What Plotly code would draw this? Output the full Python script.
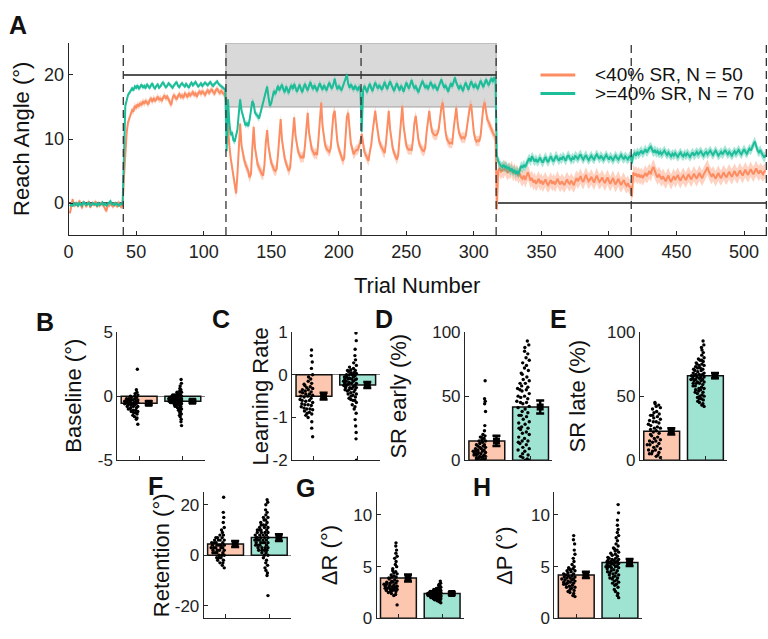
import numpy as np
import plotly.graph_objects as go

W, H = 768, 639
FONT = "Liberation Sans, Arial, sans-serif"
ORANGE = "#FC8D62"
TEAL = "#1DBD9A"
ORANGE_BAR = "#FDC6AE"
TEAL_BAR = "#9FE3D3"
AXC = "#262626"

# ---------------- panel A data (trial-by-trial group means) ----------------
phase_start = [1, 41, 117, 317]
block_edges = [40.5, 116.5, 216.5, 316.5, 416.5, 516.5]
target_x = [0, 40.5, None, 40.5, 316.5, None, 316.5, 516.5]
target_y = [0, 0, None, 20, 20, None, 0, 0]
window_x = [116.5, 316.5]
window_y = [15, 25]

orange_base = [-1.6, -0.4, 0.6, -0.5, -0.2, 0.1, -0.6, 0.4, -0.3, -0.8,
               0.2, -0.1, -0.5, -0.3, 0.3, -0.7, -0.2, 0.0, -0.4, 0.3,
               -0.6, -0.2, -0.5, 0.1, -0.3, -0.4, -0.9, -1.3, -0.2, -0.5,
               0.0, -0.4, -0.6, -0.1, -0.3, -0.5, 0.2, -0.4, -0.6, -0.3]
teal_base = [-0.5, -0.2, -0.4, 0.1, -0.3, -0.1, -0.5, 0.0, -0.2, -0.4,
             0.2, -0.1, -0.3, -0.2, 0.1, -0.4, -0.3, 0.0, -0.2, -0.1,
             -0.4, 0.0, -0.3, -0.2, 0.1, -0.3, -0.1, -0.4, -0.2, 0.0,
             0.3, -0.2, -0.1, -0.3, 0.0, -0.2, -0.4, -0.1, -0.2, -0.1]

orange_train = [4.0, 8.6, 11.0, 12.6, 13.3, 14.1, 14.5, 14.3, 15.2, 14.8,
                15.4, 15.1, 15.6, 15.3, 15.9, 15.5, 16.0, 15.7, 15.4, 16.1,
                16.3, 15.8, 16.4, 16.0, 16.2, 16.6, 16.1, 16.4, 15.9, 16.5,
                16.8, 16.3, 16.6, 16.2, 15.6, 15.3, 16.4, 16.9, 16.5, 16.2,
                16.7, 17.0, 16.6, 16.8, 16.4, 17.1, 16.9, 16.5, 17.2, 16.8,
                17.0, 17.3, 16.9, 17.1, 16.6, 17.2, 17.4, 17.0, 17.5, 17.2,
                16.9, 17.3, 17.6, 17.2, 17.5, 17.8, 17.3, 17.1, 17.6, 17.9,
                17.4, 17.2, 17.5, 17.3, 17.0, 17.1]
teal_train = [9.5, 15.2, 16.0, 16.9, 17.2, 17.5, 17.9, 17.6, 18.2, 18.0,
              18.4, 17.8, 18.1, 18.5, 18.0, 18.3, 17.9, 18.6, 18.2, 18.0,
              18.4, 18.7, 18.1, 17.9, 18.3, 18.5, 18.0, 18.2, 18.6, 18.9,
              18.4, 18.1, 18.3, 18.7, 18.5, 18.2, 18.0, 18.4, 18.6, 18.9,
              18.3, 18.1, 18.5, 18.7, 18.4, 18.2, 18.6, 18.3, 18.0, 18.5,
              18.8, 18.4, 18.6, 18.9, 18.5, 18.2, 18.4, 18.7, 18.3, 18.5,
              18.8, 18.6, 18.4, 18.7, 18.9, 18.5, 18.3, 18.6, 18.8, 19.0,
              18.6, 18.4, 18.2, 18.0, 17.9, 17.7]

orange_pert = [14.0, 11.0, 9.0, 7.0, 5.5, 4.0, 2.8, 1.5, 4.5, 9.0,
               12.4, 9.0, 7.5, 6.8, 6.0, 5.5, 5.0, 4.0, 4.5, 8.5,
               11.9, 8.6, 6.8, 6.0, 5.5, 5.0, 4.5, 4.3, 6.0, 9.5,
               11.4, 8.8, 7.2, 6.3, 5.8, 5.2, 5.0, 5.3, 7.5, 11.0,
               13.1, 9.8, 8.0, 7.0, 6.2, 5.6, 5.0, 5.5, 8.0, 11.5,
               13.4, 10.5, 8.8, 8.0, 7.5, 7.0, 7.3, 7.0, 9.0, 12.0,
               14.1, 11.0, 9.2, 8.4, 8.0, 7.6, 7.8, 7.5, 10.0, 13.5,
               15.7, 12.0, 10.0, 9.0, 8.5, 8.3, 8.0, 8.5, 11.0, 13.8,
               14.4, 11.2, 9.5, 8.5, 7.8, 7.2, 6.6, 7.0, 10.5, 13.5,
               14.1, 11.0, 9.2, 8.5, 7.6, 8.0, 8.3, 8.3, 9.0, 9.5,
               10.8, 9.0, 8.0, 7.5, 7.0, 6.6, 8.0, 9.0, 11.0, 13.0,
               14.4, 12.5, 10.5, 9.6, 9.0, 8.5, 8.0, 7.8, 9.5, 12.5,
               14.4, 11.5, 9.6, 8.5, 7.8, 7.3, 6.8, 7.5, 10.5, 13.5,
               15.2, 12.0, 10.0, 9.0, 8.5, 8.3, 8.4, 8.3, 10.0, 12.5,
               13.6, 11.5, 9.8, 9.0, 8.5, 8.2, 8.1, 8.6, 11.0, 13.3,
               14.4, 12.5, 11.2, 10.8, 10.6, 10.6, 10.8, 11.5, 13.5, 15.0,
               15.7, 13.0, 11.2, 10.0, 9.6, 9.3, 9.4, 9.3, 11.5, 13.8,
               14.9, 12.5, 11.0, 10.5, 10.1, 10.3, 10.1, 10.5, 12.0, 14.0,
               15.0, 15.4, 13.0, 11.0, 10.0, 9.6, 9.8, 9.6, 10.5, 13.0,
               15.0, 15.7, 14.5, 13.0, 12.6, 12.0, 11.5, 11.0, 10.6, 10.4]
teal_pert = [8.1, 16.2, 12.6, 10.6, 11.1, 9.8, 9.6, 10.6, 11.5, 14.0,
             16.2, 14.5, 13.6, 12.8, 12.1, 12.5, 12.0, 13.0, 14.5, 15.9,
             15.5, 14.1, 13.8, 13.6, 13.2, 14.0, 15.0, 15.7, 16.5, 17.5,
             18.2, 16.5, 15.2, 15.6, 16.5, 17.5, 17.0, 17.8, 18.3, 17.6,
             18.0, 18.5, 17.7, 17.3, 18.2, 17.5, 17.2, 18.0, 18.4, 17.8,
             18.6, 18.0, 17.4, 17.9, 18.5, 17.8, 17.3, 18.1, 18.6, 18.0,
             17.6, 18.3, 18.9, 18.2, 17.8, 18.4, 17.9, 17.5, 18.2, 18.7,
             18.1, 17.7, 18.4, 18.0, 17.6, 18.3, 18.8, 18.2, 17.9, 18.5,
             19.4, 18.4, 17.8, 18.3, 18.0, 17.6, 18.2, 18.8, 19.6, 20.0,
             18.6, 18.0, 18.5, 18.1, 17.7, 18.3, 18.0, 17.6, 18.2, 17.9,
             11.1, 17.6, 18.3, 17.8, 17.3, 18.1, 18.6, 18.0, 17.5, 18.2,
             18.8, 18.3, 17.9, 18.4, 18.1, 17.7, 18.3, 18.9, 18.2, 17.8,
             18.5, 19.0, 18.4, 18.0, 17.5, 18.2, 18.7, 18.1, 17.6, 18.3,
             18.0, 17.4, 18.1, 18.8, 18.3, 17.9, 18.6, 19.2, 18.4, 17.9,
             18.2, 17.7, 17.3, 18.0, 18.6, 19.1, 18.5, 18.0, 18.4, 17.8,
             18.3, 18.9, 18.4, 17.9, 18.5, 18.1, 17.6, 18.2, 18.8, 19.3,
             18.6, 18.0, 18.4, 17.9, 17.4, 18.1, 18.7, 18.2, 18.9, 19.6,
             18.8, 18.2, 17.8, 18.4, 18.0, 17.5, 18.3, 18.8, 18.2, 17.7,
             18.4, 19.0, 18.5, 18.0, 18.6, 18.2, 17.8, 18.5, 19.1, 18.6,
             18.1, 18.7, 19.3, 18.8, 18.4, 19.0, 19.5, 18.9, 19.6, 19.2]

orange_post = [-1.0, 5.0, 5.5, 4.8, 5.3, 5.0, 5.6, 5.1, 4.7, 5.2,
               4.9, 5.4, 4.6, 5.0, 4.5, 4.8, 4.2, 4.6, 4.0, 3.8,
               4.3, 3.6, 4.1, 4.8, 4.2, 3.5, 3.9, 3.2, 3.6, 3.0,
               3.4, 3.8, 3.1, 3.5, 2.9, 3.3, 3.7, 3.1, 2.8, 3.2,
               3.6, 3.0, 3.4, 2.9, 3.3, 3.8, 3.2, 2.9, 3.4, 3.1,
               2.8, 3.3, 3.7, 3.2, 3.0, 3.5, 3.1, 2.8, 3.4, 3.9,
               3.4, 3.8, 4.2, 3.6, 3.3, 3.9, 4.4, 3.8, 3.4, 3.7,
               4.1, 3.6, 3.2, 3.8, 4.3, 3.7, 3.3, 3.6, 4.0, 3.5,
               3.1, 3.6, 4.0, 3.4, 3.0, 3.5, 3.9, 3.3, 2.9, 3.4,
               3.8, 3.2, 2.8, 3.3, 3.6, 3.0, 2.7, 3.1, 2.6, 2.5,
               1.0, 4.8, 4.3, 4.6, 4.1, 4.5, 4.0, 4.4, 3.9, 4.3,
               4.7, 4.2, 4.6, 5.0, 4.5, 5.3, 5.6, 4.9, 4.4, 4.0,
               4.5, 4.1, 3.7, 4.2, 3.8, 3.4, 3.9, 4.3, 3.7, 3.3,
               3.8, 4.2, 3.6, 3.9, 4.4, 3.8, 3.5, 4.0, 4.3, 3.9,
               3.6, 4.1, 4.5, 4.0, 3.7, 4.2, 4.6, 4.1, 3.8, 4.3,
               4.7, 4.2, 3.9, 4.4, 4.8, 5.2, 5.6, 4.9, 4.5, 4.1,
               4.6, 4.2, 3.8, 4.3, 4.7, 4.2, 3.9, 4.4, 4.8, 4.3,
               4.0, 4.5, 4.9, 4.4, 4.1, 4.6, 5.0, 4.5, 4.2, 4.7,
               5.1, 4.6, 4.3, 4.8, 5.2, 4.7, 4.4, 4.9, 5.3, 4.8,
               4.5, 5.0, 5.4, 4.9, 4.6, 5.1, 4.8, 4.5, 4.9, 5.1]
teal_post = [7.5, 6.5, 6.0, 5.8, 5.6, 6.0, 5.5, 5.8, 5.3, 5.6,
             5.0, 5.4, 4.8, 5.2, 4.6, 5.0, 4.5, 5.3, 5.8, 5.5,
             6.0, 5.6, 6.2, 6.6, 7.0, 6.5, 7.3, 6.8, 6.5, 6.9,
             6.4, 6.7, 7.1, 6.6, 6.3, 6.8, 7.2, 6.7, 6.4, 6.9,
             7.3, 6.8, 6.5, 7.0, 7.4, 6.9, 6.6, 7.1, 6.8, 7.3,
             7.0, 6.6, 7.2, 7.5, 7.0, 6.7, 7.1, 6.8, 7.4, 7.2,
             6.9, 7.3, 7.6, 7.1, 6.8, 7.2, 7.5, 7.0, 6.7, 7.1,
             7.4, 7.0, 6.8, 7.3, 7.6, 7.2, 6.9, 7.4, 7.1, 6.8,
             7.2, 7.5, 7.1, 6.8, 7.3, 7.0, 6.7, 7.1, 7.4, 7.0,
             6.8, 7.2, 7.5, 7.1, 6.9, 7.3, 7.0, 6.8, 7.2, 7.4,
             6.2, 7.5, 7.8, 7.4, 8.0, 7.6, 7.9, 8.2, 7.7, 8.0,
             8.4, 7.9, 8.3, 8.6, 8.8, 8.2, 7.9, 8.3, 7.8, 8.1,
             7.7, 8.0, 7.6, 7.9, 8.2, 7.8, 7.5, 7.9, 7.6, 7.3,
             7.7, 7.4, 7.8, 7.5, 7.2, 7.6, 7.9, 7.5, 7.3, 7.7,
             7.4, 7.8, 7.5, 7.2, 7.6, 7.9, 7.4, 7.7, 8.0, 7.6,
             7.8, 8.1, 7.7, 7.4, 7.8, 8.0, 7.6, 7.9, 8.2, 7.8,
             7.5, 7.9, 8.2, 7.8, 7.4, 7.7, 8.0, 7.6, 7.9, 8.3,
             7.9, 7.6, 8.0, 7.7, 7.4, 7.8, 8.1, 7.7, 8.0, 8.3,
             7.9, 7.6, 8.0, 8.4, 8.0, 7.7, 8.1, 8.5, 8.2, 8.8,
             9.2, 9.6, 8.8, 8.2, 7.9, 8.3, 7.8, 7.4, 7.1, 7.5]

# standard error per phase (baseline, training, perturbation, post)
se_orange = [0.35, 0.5, 0.8, 1.2]
se_teal = [0.25, 0.35, 0.5, 0.75]

# ---------------- panels B-H data ----------------
base_o = [2.1, 0.5, 0.3, 0.2, 0.1, 0.0, 0.0, -0.1, -0.1, -0.2, -0.2, -0.2, -0.3, -0.3, -0.3,
          -0.3, -0.4, -0.4, -0.4, -0.5, -0.5, -0.5, -0.5, -0.6, -0.6, -0.6, -0.7, -0.7, -0.7,
          -0.8, -0.8, -0.8, -0.9, -0.9, -1.0, -1.0, -1.1, -1.1, -1.2, -1.2, -1.3, -1.3, -1.4,
          -1.5, -1.6, -1.7, -1.8, -0.4, -0.6, -2.2]
base_t = [1.3, 1.0, 0.8, 0.6, 0.5, 0.4, 0.3, 0.3, 0.2, 0.2, 0.1, 0.1, 0.1, 0.0, 0.0, 0.0, 0.0,
          -0.1, -0.1, -0.1, -0.1, -0.1, -0.2, -0.2, -0.2, -0.2, -0.2, -0.3, -0.3, -0.3, -0.3,
          -0.3, -0.4, -0.4, -0.4, -0.4, -0.5, -0.5, -0.5, -0.5, -0.6, -0.6, -0.6, -0.7, -0.7,
          -0.7, -0.8, -0.8, -0.9, -0.9, -1.0, -1.0, -1.1, -1.2, -1.3, -1.4, -1.5, -1.6, -1.8,
          -2.0, -2.3, -0.2, -0.3, -0.1, 0.0, -0.4, -0.6, -0.2, -0.5, -0.3]
rate_o = [0.58, 0.45, 0.3, 0.15, 0.0, -0.05, -0.1, -0.15, -0.2, -0.22, -0.25, -0.28, -0.3,
          -0.32, -0.35, -0.38, -0.4, -0.42, -0.45, -0.48, -0.5, -0.52, -0.55, -0.58, -0.6,
          -0.62, -0.65, -0.68, -0.7, -0.72, -0.75, -0.78, -0.8, -0.82, -0.85, -0.88, -0.9,
          -0.92, -0.95, -0.6, -0.5, -0.45, -0.35, -0.7, -0.8, -1.0, -1.1, -1.25, -1.45, -0.4]
rate_t = [0.98, 0.8, 0.6, 0.45, 0.35, 0.28, 0.22, 0.18, 0.15, 0.12, 0.1, 0.08, 0.05, 0.03,
          0.0, 0.0, -0.02, -0.05, -0.05, -0.08, -0.1, -0.1, -0.12, -0.15, -0.15, -0.18, -0.2,
          -0.2, -0.22, -0.25, -0.25, -0.28, -0.3, -0.3, -0.32, -0.35, -0.35, -0.38, -0.4,
          -0.42, -0.45, -0.48, -0.5, -0.52, -0.55, -0.58, -0.6, -0.65, -0.7, -0.75, -0.8,
          -0.9, -1.05, -1.2, -1.35, -1.5, -2.0, -0.1, -0.2, -0.3, 0.05, -0.15, -0.25, -0.05,
          0.1, -0.35, -0.45, -0.6, 0.0, -0.1]
sr_early_o = [62, 48, 46, 44, 38, 27, 23, 20, 19, 18, 17, 16, 15, 14, 13, 12, 12, 11, 10, 10,
              9, 9, 8, 8, 7, 7, 6, 6, 5, 5, 5, 4, 4, 3, 3, 3, 2, 2, 2, 1, 1, 1, 0, 0, 0,
              15, 11, 7, 4, 18]
sr_early_t = [93, 90, 88, 85, 83, 80, 78, 76, 74, 72, 70, 68, 67, 65, 63, 62, 60, 58, 57, 56,
              55, 54, 52, 50, 49, 48, 46, 45, 44, 42, 41, 40, 38, 37, 35, 34, 32, 30, 29, 28,
              26, 25, 24, 22, 21, 20, 18, 17, 15, 14, 13, 12, 10, 9, 8, 7, 5, 4, 3, 2, 1, 0,
              0, 55, 45, 35, 25, 15, 60, 50]
sr_late_o = [45, 44, 43, 42, 41, 40, 38, 37, 36, 35, 34, 33, 32, 31, 30, 29, 28, 27, 26, 25,
             24, 23, 22, 21, 20, 19, 18, 17, 16, 15, 14, 13, 12, 11, 10, 9, 8, 7, 6, 5, 4, 3,
             2, 30, 35, 12, 8, 5, 25, 15]
sr_late_t = [93, 90, 88, 86, 84, 82, 80, 79, 78, 77, 76, 75, 74, 73, 72, 71, 70, 69, 68, 68,
             67, 67, 66, 66, 65, 65, 64, 64, 63, 63, 62, 62, 61, 61, 60, 60, 59, 58, 57, 56,
             55, 55, 54, 53, 52, 51, 50, 50, 49, 48, 47, 46, 45, 44, 43, 42, 70, 72, 75, 78,
             65, 58, 53, 48, 63, 67, 71, 56, 60, 74]
ret_o = [23, 17, 15, 13, 11, 10, 9, 8, 8, 7, 7, 6, 6, 6, 5, 5, 5, 4, 4, 4, 4, 3, 3, 3, 3, 2,
         2, 2, 1, 1, 1, 0, 0, 0, -1, -1, -2, -2, -3, -3, -4, -5, 5, 3, 7, 2, 4, 6, 1, -1]
ret_t = [22, 21, 20, 18, 17, 16, 15, 14, 13, 12, 12, 11, 11, 10, 10, 10, 9, 9, 9, 8, 8, 8, 7,
         7, 7, 7, 6, 6, 6, 6, 5, 5, 5, 5, 4, 4, 4, 3, 3, 3, 2, 2, 2, 1, 1, 0, 0, -1, -2, -3,
         -4, -5, -6, -7, -8, -16, 9, 6, 4, 11, 13, 8, 5, 3, 10, 7, 12, 14, 2, 15]
dr_o = [7.3, 7.0, 6.6, 6.3, 6.0, 5.8, 5.5, 5.2, 5.0, 4.8, 4.6, 4.5, 4.4, 4.3, 4.2, 4.1, 4.0,
        3.9, 3.8, 3.7, 3.6, 3.5, 3.5, 3.4, 3.3, 3.3, 3.2, 3.2, 3.1, 3.1, 3.0, 3.0, 2.9, 2.9,
        2.8, 2.8, 2.7, 2.7, 2.6, 2.5, 2.4, 2.3, 2.2, 1.3, 3.6, 4.0, 3.4, 2.6, 3.0, 2.8]
dr_t = [3.6, 3.4, 3.3, 3.2, 3.1, 3.0, 3.0, 2.9, 2.9, 2.8, 2.8, 2.8, 2.7, 2.7, 2.7, 2.6, 2.6,
        2.6, 2.6, 2.5, 2.5, 2.5, 2.5, 2.4, 2.4, 2.4, 2.4, 2.3, 2.3, 2.3, 2.3, 2.2, 2.2, 2.2,
        2.2, 2.1, 2.1, 2.1, 2.1, 2.0, 2.0, 2.0, 2.0, 1.9, 1.9, 1.9, 1.8, 1.8, 1.8, 1.7, 1.7,
        1.6, 1.5, 2.4, 2.5, 2.3, 2.6, 2.2, 2.1, 2.0, 2.4, 2.5, 2.3, 2.7, 2.2, 1.9, 2.4, 2.6,
        2.1, 2.3]
dp_o = [8.0, 7.6, 7.2, 6.6, 6.2, 5.8, 5.5, 5.2, 5.0, 4.9, 4.8, 4.7, 4.6, 4.5, 4.4, 4.3, 4.2,
        4.1, 4.0, 4.0, 3.9, 3.8, 3.8, 3.7, 3.6, 3.5, 3.5, 3.4, 3.3, 3.3, 3.2, 3.1, 3.0, 2.9,
        2.8, 2.7, 2.6, 2.5, 2.4, 2.2, 2.1, 4.6, 3.9, 4.3, 3.7, 4.1, 3.4, 4.8, 3.0, 3.6]
dp_t = [11.0, 10.2, 9.5, 9.0, 8.6, 8.3, 8.0, 7.8, 7.5, 7.2, 7.0, 6.8, 6.6, 6.5, 6.3, 6.2, 6.0,
        5.9, 5.8, 5.7, 5.6, 5.5, 5.5, 5.4, 5.3, 5.2, 5.2, 5.1, 5.0, 5.0, 4.9, 4.8, 4.7, 4.6,
        4.5, 4.4, 4.3, 4.2, 4.1, 4.0, 3.9, 3.8, 3.7, 3.6, 3.5, 3.4, 3.3, 3.2, 3.0, 2.8, 2.6,
        2.4, 2.2, 2.0, 5.5, 5.8, 5.1, 4.9, 6.1, 5.3, 4.6, 5.6, 6.4, 5.0, 4.4, 3.9, 5.7, 6.7,
        4.2, 5.4]

# group means and standard errors [orange, teal]
means = {"B": [-0.55, -0.4], "C": [-0.5, -0.24], "D": [15, 41.5], "E": [22.5, 66],
         "F": [4.5, 7.0], "G": [3.9, 2.4], "H": [4.2, 5.4]}
sems = {"B": [0.15, 0.12], "C": [0.08, 0.07], "D": [4.0, 5.0], "E": [2.5, 2.0],
        "F": [1.2, 1.3], "G": [0.35, 0.12], "H": [0.3, 0.35]}


def fx(px):
    return px / W


def fy(py):
    return 1 - py / H


def spread(vals, right, width=0.3):
    # density-scaled horizontal spread, points pile up to the left of 'right'
    v = np.asarray(vals, float)
    h = (v.max() - v.min()) / 10.0
    counts = np.array([np.sum(np.abs(v - x) < h) for x in v])
    dens = counts / counts.max()
    pattern = [0.0, 0.55, 0.25, 0.8, 1.0, 0.12, 0.65, 0.38, 0.9]
    xs = np.empty(len(v))
    for k, i in enumerate(np.argsort(v)):
        xs[i] = right - width * dens[i] * pattern[k % len(pattern)]
    return xs


fig = go.Figure()

# ---------------- panel A ----------------
series = {"o": [orange_base, orange_train, orange_pert, orange_post],
          "t": [teal_base, teal_train, teal_pert, teal_post]}
fig.add_trace(go.Scatter(x=target_x, y=target_y, mode="lines",
                         line=dict(color="#1a1a1a", width=1.5), hoverinfo="skip"))
for key, col, ses in [("o", ORANGE, se_orange), ("t", TEAL, se_teal)]:
    xs, ys, es = [], [], []
    for start, seg, se in zip(phase_start, series[key], ses):
        xs += list(range(start, start + len(seg)))
        ys += list(seg)
        es += [se] * len(seg)
    xs, ys, es = np.array(xs), np.array(ys), np.array(es)
    rgb = tuple(int(col[i:i + 2], 16) for i in (1, 3, 5))
    fig.add_trace(go.Scatter(x=np.concatenate([xs, xs[::-1]]),
                             y=np.concatenate([ys + es, (ys - es)[::-1]]),
                             fill="toself", mode="lines", line=dict(width=0),
                             fillcolor="rgba(%d,%d,%d,0.4)" % rgb, hoverinfo="skip"))
    fig.add_trace(go.Scatter(x=xs, y=ys, mode="lines", line=dict(color=col, width=2)))

shapes = [dict(type="rect", xref="x", yref="y", x0=window_x[0], x1=window_x[1],
               y0=window_y[0], y1=window_y[1], fillcolor="#d9d9d9",
               line=dict(color="#a0a0a0", width=1), layer="below")]
for e in block_edges:
    shapes.append(dict(type="line", xref="x", yref="y", x0=e, x1=e, y0=-5, y1=25,
                       line=dict(color="#333333", width=1.3, dash="8px,5px")))

axis_common = dict(showline=True, linecolor=AXC, linewidth=1, ticks="inside", ticklen=4,
                   tickcolor=AXC, showgrid=False, zeroline=False, mirror=False,
                   tickfont=dict(family=FONT, size=18, color="#222"))
layout = dict(
    xaxis=dict(axis_common, domain=[fx(64), fx(767)], range=[0, 517],
               tickvals=list(range(0, 501, 50)), anchor="y"),
    yaxis=dict(axis_common, domain=[fy(233), fy(35)], range=[-5, 25],
               tickvals=[0, 10, 20], anchor="x"),
)

annotations = [
    dict(text="Reach Angle (°)", x=fx(16), y=fy(134), textangle=-90, font_size=22),
    dict(text="Trial Number", x=fx(415), y=fy(285), font_size=22),
    dict(text="<b>A</b>", x=fx(13), y=fy(16), font_size=25),
    dict(text="&lt;40% SR, N = 50", x=fx(592), y=fy(68), xanchor="left", font_size=19),
    dict(text="&gt;=40% SR, N = 70", x=fx(592), y=fy(87), xanchor="left", font_size=19),
]
shapes += [dict(type="line", xref="paper", yref="paper", x0=fx(539), x1=fx(574),
                y0=fy(68), y1=fy(68), line=dict(color=ORANGE, width=3)),
           dict(type="line", xref="paper", yref="paper", x0=fx(539), x1=fx(574),
                y0=fy(87), y1=fy(87), line=dict(color=TEAL, width=3))]

# ---------------- panels B-H ----------------
panels = [
    # key, title, data o, data t, y range, ticks, x px, y px, letter pos, title x
    ("B", "Baseline (°)", base_o, base_t, [-5, 5], [-5, 0, 5], 113, (333, 465), (40, 323), 69),
    ("C", "Learning Rate", rate_o, rate_t, [-2, 1], [-2, -1, 0, 1], 289, (333, 465), (217, 320), 257),
    ("D", "SR early (%)", sr_early_o, sr_early_t, [0, 100], [0, 50, 100], 463, (333, 465), (381, 320), 396),
    ("E", "SR late (%)", sr_late_o, sr_late_t, [0, 100], [0, 50, 100], 639, (333, 465), (557, 320), 576),
    ("F", "Retention (°)", ret_o, ret_t, [-25, 25], [-20, 0, 20], 200, (498, 628), (151, 492), 157),
    ("G", "ΔR (°)", dr_o, dr_t, [0, 12.2], [0, 5, 10], 374, (498, 628), (302, 494), 326),
    ("H", "ΔP (°)", dp_o, dp_t, [0, 12.2], [0, 5, 10], 553, (498, 628), (480, 493), 503),
]

for n, (key, title, d_o, d_t, yr, yt, x0, (ytop, ybot), (lx, ly), tx) in enumerate(panels, start=2):
    xa, ya = "x%d" % n, "y%d" % n
    layout["xaxis%d" % n] = dict(axis_common, domain=[fx(x0), fx(x0 + 88)], range=[0.5, 2.5],
                                 tickvals=[1, 2], ticktext=["", ""], anchor=ya)
    layout["yaxis%d" % n] = dict(axis_common, domain=[fy(ybot), fy(ytop)], range=yr,
                                 tickvals=yt, ticktext=[str(v) for v in yt], anchor=xa,
                                 tickfont=dict(family=FONT, size=17, color="#222"),
                                 zeroline=yr[0] < 0, zerolinecolor="#808080", zerolinewidth=1)
    fig.add_trace(go.Bar(x=[1, 2], y=means[key], width=0.82, xaxis=xa, yaxis=ya,
                         marker=dict(color=[ORANGE_BAR, TEAL_BAR],
                                     line=dict(color="#111111", width=1.5))))
    for cx, d in [(0.97, d_o), (1.97, d_t)]:
        fig.add_trace(go.Scatter(x=spread(d, cx), y=d, mode="markers", xaxis=xa, yaxis=ya,
                                 marker=dict(color="black", size=3.4)))
    fig.add_trace(go.Scatter(x=[1.22, 2.22], y=means[key], mode="markers", xaxis=xa, yaxis=ya,
                             marker=dict(color="black", size=7, symbol="square"),
                             error_y=dict(type="data", array=sems[key], color="black",
                                          thickness=2.5, width=4)))
    annotations.append(dict(text="<b>%s</b>" % key, x=fx(lx), y=fy(ly), font_size=25))
    annotations.append(dict(text=title, x=fx(tx), y=fy((ytop + ybot) / 2), textangle=-90,
                            font_size=22))

for a in annotations:
    a.update(xref="paper", yref="paper", showarrow=False,
             xanchor=a.get("xanchor", "center"), yanchor="middle")
    a["font"] = dict(family=FONT, size=a.pop("font_size"), color="#111")

fig.update_layout(**layout)
fig.update_layout(width=W, height=H, autosize=False, margin=dict(l=0, r=0, t=0, b=0),
                  paper_bgcolor="white", plot_bgcolor="white", showlegend=False,
                  shapes=shapes, annotations=annotations, barmode="overlay",
                  font=dict(family=FONT))
# drop the browser's default 8px body margin so the 768x639 figure fills the window
fig.write_html("out.html", config={"displayModeBar": False},
               post_script="document.body.style.margin='0';document.body.style.overflow='hidden';")
